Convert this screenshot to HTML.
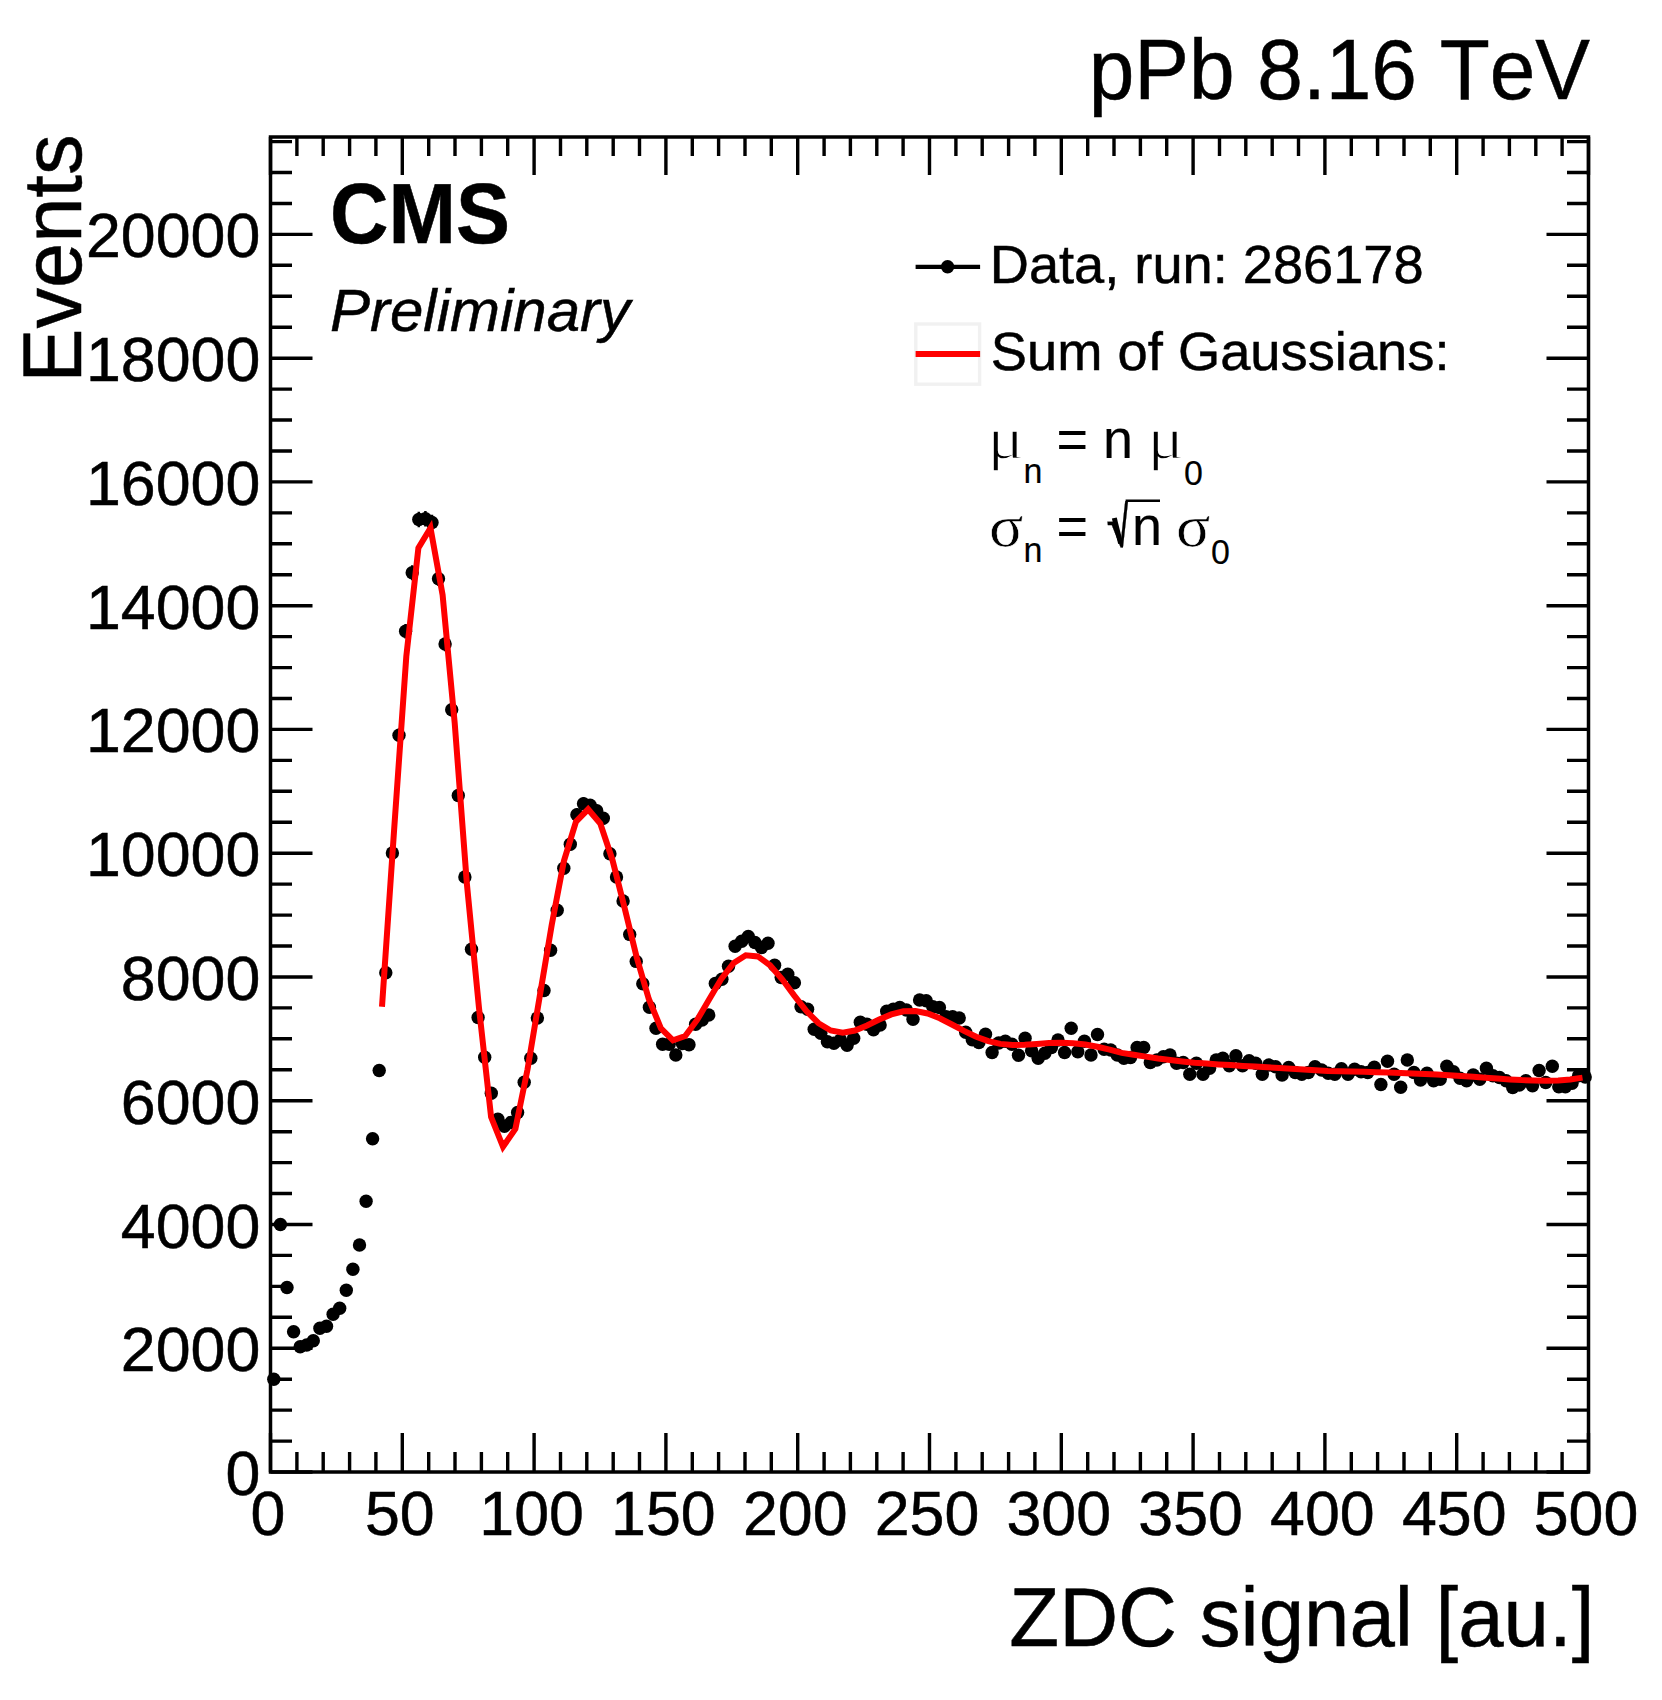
<!DOCTYPE html>
<html lang="en"><head><meta charset="utf-8"><title>ZDC signal</title>
<style>
html,body{margin:0;padding:0;background:#fff;}
body{width:1662px;height:1700px;overflow:hidden;}
svg{display:block;}
text{font-family:"Liberation Sans",Arial,Helvetica,sans-serif;fill:#000;stroke:#000;stroke-width:0.5px;font-kerning:none;}
.g{font-family:"Liberation Serif","DejaVu Serif",serif;stroke:none;}
</style></head><body>
<svg width="1662" height="1700" viewBox="0 0 1662 1700">
<rect x="0" y="0" width="1662" height="1700" fill="#fff"/>
<path d="M273.8 1376.8V1381.6M280.4 1220.6V1228.4M287.0 1284.1V1290.9M293.6 1328.8V1334.6M300.2 1343.9V1349.5M306.7 1342.2V1347.8M313.3 1338.0V1343.6M319.9 1325.3V1331.3M326.5 1323.3V1329.3M333.1 1311.1V1317.3M339.7 1305.1V1311.5M346.3 1286.9V1293.7M352.9 1265.7V1272.7M359.5 1241.3V1248.7M366.1 1197.2V1205.4M372.6 1134.2V1143.2M379.2 1065.5V1075.5M385.8 967.2V978.4M392.4 846.8V859.2M399.0 728.5V742.1M405.6 624.1V638.5M412.2 565.2V580.2M418.8 511.8V527.2M425.4 511.0V526.4M432.0 514.8V530.2M438.5 571.3V586.1M445.1 636.8V651.2M451.7 702.8V716.6M458.3 789.0V802.0M464.9 870.9V883.1M471.5 943.5V954.9M478.1 1012.2V1022.8M484.7 1052.1V1062.3M491.3 1088.5V1098.1M497.9 1114.5V1123.9M504.4 1121.6V1130.8M511.0 1117.8V1127.2M517.6 1107.8V1117.2M524.2 1077.3V1087.1M530.8 1053.2V1063.4M537.4 1012.7V1023.3M544.0 985.0V996.0M550.6 944.6V956.0M557.2 904.4V916.2M563.8 862.2V874.4M570.3 838.0V850.4M576.9 808.3V821.1M583.5 797.3V810.1M590.1 798.9V811.7M596.7 804.4V817.2M603.3 811.9V824.7M609.9 847.5V859.9M616.5 870.9V883.1M623.1 895.1V906.9M629.7 928.6V940.2M636.2 955.8V967.0M642.8 978.3V989.3M649.4 1001.8V1012.6M656.0 1023.1V1033.5M662.6 1039.1V1049.3M669.2 1039.2V1049.4M675.8 1049.9V1060.1M682.4 1038.5V1048.7M689.0 1039.7V1049.9M695.6 1018.9V1029.5M702.1 1014.7V1025.3M708.7 1009.7V1020.3M715.3 978.0V989.0M721.9 973.7V984.7M728.5 960.6V971.8M735.1 940.6V952.0M741.7 935.6V947.0M748.3 930.7V942.3M754.9 936.8V948.2M761.5 941.8V953.2M768.0 937.5V948.9M774.6 959.7V970.9M781.2 972.0V983.0M787.8 968.6V979.8M794.4 977.3V988.3M801.0 1001.3V1012.1M807.6 1003.8V1014.6M814.2 1024.0V1034.4M820.8 1028.1V1038.5M827.4 1036.5V1046.9M833.9 1038.1V1048.5M840.5 1034.8V1045.2M847.1 1040.2V1050.4M853.7 1033.1V1043.5M860.3 1016.9V1027.5M866.9 1018.9V1029.5M873.5 1024.5V1034.9M880.1 1019.7V1030.3M886.7 1006.0V1016.6M893.3 1003.8V1014.6M899.8 1002.1V1012.9M906.4 1004.7V1015.3M913.0 1013.9V1024.5M919.6 994.6V1005.4M926.2 995.4V1006.2M932.8 1001.3V1012.1M939.4 1002.1V1012.9M946.0 1011.4V1022.0M952.6 1011.4V1022.0M959.2 1012.7V1023.3M965.7 1027.0V1037.4M972.3 1034.5V1044.9M978.9 1037.3V1047.7M985.5 1029.0V1039.4M992.1 1047.4V1057.6M998.7 1037.8V1048.2M1005.3 1036.0V1046.4M1011.9 1039.1V1049.3M1018.5 1050.2V1060.4M1025.1 1033.1V1043.5M1031.6 1045.7V1055.9M1038.2 1053.2V1063.4M1044.8 1048.2V1058.4M1051.4 1042.4V1052.6M1058.0 1034.8V1045.2M1064.6 1047.4V1057.6M1071.2 1023.1V1033.5M1077.8 1046.6V1056.8M1084.4 1036.0V1046.4M1091.0 1049.9V1060.1M1097.5 1029.3V1039.7M1104.1 1044.1V1054.3M1110.7 1044.9V1055.1M1117.3 1049.9V1060.1M1123.9 1053.2V1063.4M1130.5 1052.4V1062.6M1137.1 1042.4V1052.6M1143.7 1042.4V1052.6M1150.3 1057.5V1067.5M1156.9 1055.0V1065.0M1163.4 1051.6V1061.8M1170.0 1049.9V1060.1M1176.6 1058.3V1068.3M1183.2 1057.5V1067.5M1189.8 1069.2V1079.2M1196.4 1058.3V1068.3M1203.0 1069.2V1079.2M1209.6 1063.3V1073.3M1216.2 1055.0V1065.0M1222.8 1053.2V1063.4M1229.3 1060.8V1070.8M1235.9 1050.7V1060.9M1242.5 1060.8V1070.8M1249.1 1055.8V1065.8M1255.7 1058.3V1068.3M1262.3 1069.2V1079.2M1268.9 1060.0V1070.0M1275.5 1061.7V1071.7M1282.1 1070.0V1080.0M1288.7 1062.5V1072.5M1295.2 1067.5V1077.5M1301.8 1069.2V1079.2M1308.4 1067.5V1077.5M1315.0 1061.7V1071.7M1321.6 1065.0V1075.0M1328.2 1068.3V1078.3M1334.8 1069.2V1079.2M1341.4 1063.8V1073.8M1348.0 1069.2V1079.2M1354.6 1064.2V1074.2M1361.1 1066.7V1076.7M1367.7 1067.5V1077.5M1374.3 1062.2V1072.2M1380.9 1079.6V1089.4M1387.5 1056.3V1066.3M1394.1 1069.2V1079.2M1400.7 1082.3V1092.1M1407.3 1055.0V1065.0M1413.9 1067.5V1077.5M1420.5 1075.1V1084.9M1427.0 1068.3V1078.3M1433.6 1075.9V1085.7M1440.2 1074.3V1084.1M1446.8 1061.3V1071.3M1453.4 1066.7V1076.7M1460.0 1073.4V1083.2M1466.6 1075.9V1085.7M1473.2 1070.0V1080.0M1479.8 1074.3V1084.1M1486.4 1063.3V1073.3M1492.9 1070.8V1080.8M1499.5 1072.6V1082.4M1506.1 1075.9V1085.7M1512.7 1082.6V1092.4M1519.3 1080.1V1089.9M1525.9 1075.9V1085.7M1532.5 1080.9V1090.7M1539.1 1065.5V1075.5M1545.7 1077.6V1087.4M1552.3 1061.2V1071.2M1558.8 1081.8V1091.6M1565.4 1081.8V1091.6M1572.0 1078.4V1088.2M1578.6 1070.8V1080.8M1585.2 1072.1V1081.9" stroke="#000" stroke-width="2.5" fill="none"/>
<g fill="#000"><circle cx="273.8" cy="1379.2" r="6.7"/><circle cx="280.4" cy="1224.5" r="6.7"/><circle cx="287.0" cy="1287.5" r="6.7"/><circle cx="293.6" cy="1331.7" r="6.7"/><circle cx="300.2" cy="1346.7" r="6.7"/><circle cx="306.7" cy="1345.0" r="6.7"/><circle cx="313.3" cy="1340.8" r="6.7"/><circle cx="319.9" cy="1328.3" r="6.7"/><circle cx="326.5" cy="1326.3" r="6.7"/><circle cx="333.1" cy="1314.2" r="6.7"/><circle cx="339.7" cy="1308.3" r="6.7"/><circle cx="346.3" cy="1290.3" r="6.7"/><circle cx="352.9" cy="1269.2" r="6.7"/><circle cx="359.5" cy="1245.0" r="6.7"/><circle cx="366.1" cy="1201.3" r="6.7"/><circle cx="372.6" cy="1138.7" r="6.7"/><circle cx="379.2" cy="1070.5" r="6.7"/><circle cx="385.8" cy="972.8" r="6.7"/><circle cx="392.4" cy="853.0" r="6.7"/><circle cx="399.0" cy="735.3" r="6.7"/><circle cx="405.6" cy="631.3" r="6.7"/><circle cx="412.2" cy="572.7" r="6.7"/><circle cx="418.8" cy="519.5" r="6.7"/><circle cx="425.4" cy="518.7" r="6.7"/><circle cx="432.0" cy="522.5" r="6.7"/><circle cx="438.5" cy="578.7" r="6.7"/><circle cx="445.1" cy="644.0" r="6.7"/><circle cx="451.7" cy="709.7" r="6.7"/><circle cx="458.3" cy="795.5" r="6.7"/><circle cx="464.9" cy="877.0" r="6.7"/><circle cx="471.5" cy="949.2" r="6.7"/><circle cx="478.1" cy="1017.5" r="6.7"/><circle cx="484.7" cy="1057.2" r="6.7"/><circle cx="491.3" cy="1093.3" r="6.7"/><circle cx="497.9" cy="1119.2" r="6.7"/><circle cx="504.4" cy="1126.2" r="6.7"/><circle cx="511.0" cy="1122.5" r="6.7"/><circle cx="517.6" cy="1112.5" r="6.7"/><circle cx="524.2" cy="1082.2" r="6.7"/><circle cx="530.8" cy="1058.3" r="6.7"/><circle cx="537.4" cy="1018.0" r="6.7"/><circle cx="544.0" cy="990.5" r="6.7"/><circle cx="550.6" cy="950.3" r="6.7"/><circle cx="557.2" cy="910.3" r="6.7"/><circle cx="563.8" cy="868.3" r="6.7"/><circle cx="570.3" cy="844.2" r="6.7"/><circle cx="576.9" cy="814.7" r="6.7"/><circle cx="583.5" cy="803.7" r="6.7"/><circle cx="590.1" cy="805.3" r="6.7"/><circle cx="596.7" cy="810.8" r="6.7"/><circle cx="603.3" cy="818.3" r="6.7"/><circle cx="609.9" cy="853.7" r="6.7"/><circle cx="616.5" cy="877.0" r="6.7"/><circle cx="623.1" cy="901.0" r="6.7"/><circle cx="629.7" cy="934.4" r="6.7"/><circle cx="636.2" cy="961.4" r="6.7"/><circle cx="642.8" cy="983.8" r="6.7"/><circle cx="649.4" cy="1007.2" r="6.7"/><circle cx="656.0" cy="1028.3" r="6.7"/><circle cx="662.6" cy="1044.2" r="6.7"/><circle cx="669.2" cy="1044.3" r="6.7"/><circle cx="675.8" cy="1055.0" r="6.7"/><circle cx="682.4" cy="1043.6" r="6.7"/><circle cx="689.0" cy="1044.8" r="6.7"/><circle cx="695.6" cy="1024.2" r="6.7"/><circle cx="702.1" cy="1020.0" r="6.7"/><circle cx="708.7" cy="1015.0" r="6.7"/><circle cx="715.3" cy="983.5" r="6.7"/><circle cx="721.9" cy="979.2" r="6.7"/><circle cx="728.5" cy="966.2" r="6.7"/><circle cx="735.1" cy="946.3" r="6.7"/><circle cx="741.7" cy="941.3" r="6.7"/><circle cx="748.3" cy="936.5" r="6.7"/><circle cx="754.9" cy="942.5" r="6.7"/><circle cx="761.5" cy="947.5" r="6.7"/><circle cx="768.0" cy="943.2" r="6.7"/><circle cx="774.6" cy="965.3" r="6.7"/><circle cx="781.2" cy="977.5" r="6.7"/><circle cx="787.8" cy="974.2" r="6.7"/><circle cx="794.4" cy="982.8" r="6.7"/><circle cx="801.0" cy="1006.7" r="6.7"/><circle cx="807.6" cy="1009.2" r="6.7"/><circle cx="814.2" cy="1029.2" r="6.7"/><circle cx="820.8" cy="1033.3" r="6.7"/><circle cx="827.4" cy="1041.7" r="6.7"/><circle cx="833.9" cy="1043.3" r="6.7"/><circle cx="840.5" cy="1040.0" r="6.7"/><circle cx="847.1" cy="1045.3" r="6.7"/><circle cx="853.7" cy="1038.3" r="6.7"/><circle cx="860.3" cy="1022.2" r="6.7"/><circle cx="866.9" cy="1024.2" r="6.7"/><circle cx="873.5" cy="1029.7" r="6.7"/><circle cx="880.1" cy="1025.0" r="6.7"/><circle cx="886.7" cy="1011.3" r="6.7"/><circle cx="893.3" cy="1009.2" r="6.7"/><circle cx="899.8" cy="1007.5" r="6.7"/><circle cx="906.4" cy="1010.0" r="6.7"/><circle cx="913.0" cy="1019.2" r="6.7"/><circle cx="919.6" cy="1000.0" r="6.7"/><circle cx="926.2" cy="1000.8" r="6.7"/><circle cx="932.8" cy="1006.7" r="6.7"/><circle cx="939.4" cy="1007.5" r="6.7"/><circle cx="946.0" cy="1016.7" r="6.7"/><circle cx="952.6" cy="1016.7" r="6.7"/><circle cx="959.2" cy="1018.0" r="6.7"/><circle cx="965.7" cy="1032.2" r="6.7"/><circle cx="972.3" cy="1039.7" r="6.7"/><circle cx="978.9" cy="1042.5" r="6.7"/><circle cx="985.5" cy="1034.2" r="6.7"/><circle cx="992.1" cy="1052.5" r="6.7"/><circle cx="998.7" cy="1043.0" r="6.7"/><circle cx="1005.3" cy="1041.2" r="6.7"/><circle cx="1011.9" cy="1044.2" r="6.7"/><circle cx="1018.5" cy="1055.3" r="6.7"/><circle cx="1025.1" cy="1038.3" r="6.7"/><circle cx="1031.6" cy="1050.8" r="6.7"/><circle cx="1038.2" cy="1058.3" r="6.7"/><circle cx="1044.8" cy="1053.3" r="6.7"/><circle cx="1051.4" cy="1047.5" r="6.7"/><circle cx="1058.0" cy="1040.0" r="6.7"/><circle cx="1064.6" cy="1052.5" r="6.7"/><circle cx="1071.2" cy="1028.3" r="6.7"/><circle cx="1077.8" cy="1051.7" r="6.7"/><circle cx="1084.4" cy="1041.2" r="6.7"/><circle cx="1091.0" cy="1055.0" r="6.7"/><circle cx="1097.5" cy="1034.5" r="6.7"/><circle cx="1104.1" cy="1049.2" r="6.7"/><circle cx="1110.7" cy="1050.0" r="6.7"/><circle cx="1117.3" cy="1055.0" r="6.7"/><circle cx="1123.9" cy="1058.3" r="6.7"/><circle cx="1130.5" cy="1057.5" r="6.7"/><circle cx="1137.1" cy="1047.5" r="6.7"/><circle cx="1143.7" cy="1047.5" r="6.7"/><circle cx="1150.3" cy="1062.5" r="6.7"/><circle cx="1156.9" cy="1060.0" r="6.7"/><circle cx="1163.4" cy="1056.7" r="6.7"/><circle cx="1170.0" cy="1055.0" r="6.7"/><circle cx="1176.6" cy="1063.3" r="6.7"/><circle cx="1183.2" cy="1062.5" r="6.7"/><circle cx="1189.8" cy="1074.2" r="6.7"/><circle cx="1196.4" cy="1063.3" r="6.7"/><circle cx="1203.0" cy="1074.2" r="6.7"/><circle cx="1209.6" cy="1068.3" r="6.7"/><circle cx="1216.2" cy="1060.0" r="6.7"/><circle cx="1222.8" cy="1058.3" r="6.7"/><circle cx="1229.3" cy="1065.8" r="6.7"/><circle cx="1235.9" cy="1055.8" r="6.7"/><circle cx="1242.5" cy="1065.8" r="6.7"/><circle cx="1249.1" cy="1060.8" r="6.7"/><circle cx="1255.7" cy="1063.3" r="6.7"/><circle cx="1262.3" cy="1074.2" r="6.7"/><circle cx="1268.9" cy="1065.0" r="6.7"/><circle cx="1275.5" cy="1066.7" r="6.7"/><circle cx="1282.1" cy="1075.0" r="6.7"/><circle cx="1288.7" cy="1067.5" r="6.7"/><circle cx="1295.2" cy="1072.5" r="6.7"/><circle cx="1301.8" cy="1074.2" r="6.7"/><circle cx="1308.4" cy="1072.5" r="6.7"/><circle cx="1315.0" cy="1066.7" r="6.7"/><circle cx="1321.6" cy="1070.0" r="6.7"/><circle cx="1328.2" cy="1073.3" r="6.7"/><circle cx="1334.8" cy="1074.2" r="6.7"/><circle cx="1341.4" cy="1068.8" r="6.7"/><circle cx="1348.0" cy="1074.2" r="6.7"/><circle cx="1354.6" cy="1069.2" r="6.7"/><circle cx="1361.1" cy="1071.7" r="6.7"/><circle cx="1367.7" cy="1072.5" r="6.7"/><circle cx="1374.3" cy="1067.2" r="6.7"/><circle cx="1380.9" cy="1084.5" r="6.7"/><circle cx="1387.5" cy="1061.3" r="6.7"/><circle cx="1394.1" cy="1074.2" r="6.7"/><circle cx="1400.7" cy="1087.2" r="6.7"/><circle cx="1407.3" cy="1060.0" r="6.7"/><circle cx="1413.9" cy="1072.5" r="6.7"/><circle cx="1420.5" cy="1080.0" r="6.7"/><circle cx="1427.0" cy="1073.3" r="6.7"/><circle cx="1433.6" cy="1080.8" r="6.7"/><circle cx="1440.2" cy="1079.2" r="6.7"/><circle cx="1446.8" cy="1066.3" r="6.7"/><circle cx="1453.4" cy="1071.7" r="6.7"/><circle cx="1460.0" cy="1078.3" r="6.7"/><circle cx="1466.6" cy="1080.8" r="6.7"/><circle cx="1473.2" cy="1075.0" r="6.7"/><circle cx="1479.8" cy="1079.2" r="6.7"/><circle cx="1486.4" cy="1068.3" r="6.7"/><circle cx="1492.9" cy="1075.8" r="6.7"/><circle cx="1499.5" cy="1077.5" r="6.7"/><circle cx="1506.1" cy="1080.8" r="6.7"/><circle cx="1512.7" cy="1087.5" r="6.7"/><circle cx="1519.3" cy="1085.0" r="6.7"/><circle cx="1525.9" cy="1080.8" r="6.7"/><circle cx="1532.5" cy="1085.8" r="6.7"/><circle cx="1539.1" cy="1070.5" r="6.7"/><circle cx="1545.7" cy="1082.5" r="6.7"/><circle cx="1552.3" cy="1066.2" r="6.7"/><circle cx="1558.8" cy="1086.7" r="6.7"/><circle cx="1565.4" cy="1086.7" r="6.7"/><circle cx="1572.0" cy="1083.3" r="6.7"/><circle cx="1578.6" cy="1075.8" r="6.7"/><circle cx="1585.2" cy="1077.0" r="6.7"/></g>
<polyline points="382.0,1006.7 394.1,830.0 406.3,656.5 418.4,548.0 430.5,528.0 442.6,595.0 454.7,723.0 466.9,884.0 479.0,1008.0 491.1,1117.0 503.0,1146.8 515.4,1128.9 527.5,1069.5 539.7,996.5 551.8,924.5 563.9,861.0 576.0,821.7 588.1,809.3 600.3,823.6 612.4,859.7 624.5,907.4 636.6,957.0 648.8,999.0 660.9,1028.3 673.0,1040.3 685.2,1036.0 697.3,1019.7 709.4,999.1 721.5,978.6 733.7,963.0 745.8,955.3 757.9,956.4 770.0,965.2 782.2,979.3 794.3,995.6 806.4,1011.1 818.5,1023.2 830.7,1030.5 842.8,1032.7 854.9,1030.5 867.0,1025.5 879.2,1019.6 891.3,1014.4 903.4,1011.3 915.5,1011.0 927.7,1013.5 939.8,1018.3 951.9,1024.5 964.0,1030.9 976.2,1036.7 988.3,1041.1 1000.4,1043.9 1012.6,1045.0 1024.7,1044.8 1036.8,1044.0 1048.9,1043.1 1061.1,1042.7 1073.2,1043.2 1085.3,1044.5 1097.4,1046.8 1109.6,1049.7 1121.7,1052.9 1133.8,1054.8 1145.9,1056.6 1158.1,1058.5 1170.2,1060.0 1182.3,1061.4 1194.4,1062.7 1206.6,1063.6 1218.7,1064.4 1230.8,1065.1 1242.9,1065.9 1255.1,1066.6 1267.2,1067.3 1279.3,1068.1 1291.4,1068.8 1303.6,1069.6 1315.7,1070.3 1327.8,1070.9 1340.0,1071.2 1352.1,1071.5 1364.2,1071.8 1376.3,1072.2 1388.5,1072.5 1400.6,1073.0 1412.7,1073.5 1424.8,1074.1 1437.0,1074.6 1449.1,1075.2 1461.2,1076.0 1473.3,1076.8 1485.5,1077.7 1497.6,1078.6 1509.7,1079.4 1521.8,1080.1 1534.0,1080.4 1546.1,1080.7 1558.2,1080.4 1570.3,1079.4 1582.5,1077.6" fill="none" stroke="#ff0000" stroke-width="6" stroke-linejoin="miter" stroke-miterlimit="10"/>
<path d="M270.5 1472.0V1433.0M270.5 137.0V175.0M296.9 1472.0V1452.0M296.9 137.0V156.0M323.2 1472.0V1452.0M323.2 137.0V156.0M349.6 1472.0V1452.0M349.6 137.0V156.0M375.9 1472.0V1452.0M375.9 137.0V156.0M402.3 1472.0V1433.0M402.3 137.0V175.0M428.7 1472.0V1452.0M428.7 137.0V156.0M455.0 1472.0V1452.0M455.0 137.0V156.0M481.4 1472.0V1452.0M481.4 137.0V156.0M507.7 1472.0V1452.0M507.7 137.0V156.0M534.1 1472.0V1433.0M534.1 137.0V175.0M560.5 1472.0V1452.0M560.5 137.0V156.0M586.8 1472.0V1452.0M586.8 137.0V156.0M613.2 1472.0V1452.0M613.2 137.0V156.0M639.5 1472.0V1452.0M639.5 137.0V156.0M665.9 1472.0V1433.0M665.9 137.0V175.0M692.3 1472.0V1452.0M692.3 137.0V156.0M718.6 1472.0V1452.0M718.6 137.0V156.0M745.0 1472.0V1452.0M745.0 137.0V156.0M771.3 1472.0V1452.0M771.3 137.0V156.0M797.7 1472.0V1433.0M797.7 137.0V175.0M824.1 1472.0V1452.0M824.1 137.0V156.0M850.4 1472.0V1452.0M850.4 137.0V156.0M876.8 1472.0V1452.0M876.8 137.0V156.0M903.1 1472.0V1452.0M903.1 137.0V156.0M929.5 1472.0V1433.0M929.5 137.0V175.0M955.9 1472.0V1452.0M955.9 137.0V156.0M982.2 1472.0V1452.0M982.2 137.0V156.0M1008.6 1472.0V1452.0M1008.6 137.0V156.0M1034.9 1472.0V1452.0M1034.9 137.0V156.0M1061.3 1472.0V1433.0M1061.3 137.0V175.0M1087.7 1472.0V1452.0M1087.7 137.0V156.0M1114.0 1472.0V1452.0M1114.0 137.0V156.0M1140.4 1472.0V1452.0M1140.4 137.0V156.0M1166.7 1472.0V1452.0M1166.7 137.0V156.0M1193.1 1472.0V1433.0M1193.1 137.0V175.0M1219.5 1472.0V1452.0M1219.5 137.0V156.0M1245.8 1472.0V1452.0M1245.8 137.0V156.0M1272.2 1472.0V1452.0M1272.2 137.0V156.0M1298.5 1472.0V1452.0M1298.5 137.0V156.0M1324.9 1472.0V1433.0M1324.9 137.0V175.0M1351.3 1472.0V1452.0M1351.3 137.0V156.0M1377.6 1472.0V1452.0M1377.6 137.0V156.0M1404.0 1472.0V1452.0M1404.0 137.0V156.0M1430.3 1472.0V1452.0M1430.3 137.0V156.0M1456.7 1472.0V1433.0M1456.7 137.0V175.0M1483.1 1472.0V1452.0M1483.1 137.0V156.0M1509.4 1472.0V1452.0M1509.4 137.0V156.0M1535.8 1472.0V1452.0M1535.8 137.0V156.0M1562.1 1472.0V1452.0M1562.1 137.0V156.0M1588.5 1472.0V1433.0M1588.5 137.0V175.0M270.5 1472.0H312.5M1588.5 1472.0H1546.5M270.5 1441.1H292.0M1588.5 1441.1H1567.0M270.5 1410.1H292.0M1588.5 1410.1H1567.0M270.5 1379.2H292.0M1588.5 1379.2H1567.0M270.5 1348.2H312.5M1588.5 1348.2H1546.5M270.5 1317.3H292.0M1588.5 1317.3H1567.0M270.5 1286.4H292.0M1588.5 1286.4H1567.0M270.5 1255.4H292.0M1588.5 1255.4H1567.0M270.5 1224.5H312.5M1588.5 1224.5H1546.5M270.5 1193.5H292.0M1588.5 1193.5H1567.0M270.5 1162.6H292.0M1588.5 1162.6H1567.0M270.5 1131.7H292.0M1588.5 1131.7H1567.0M270.5 1100.7H312.5M1588.5 1100.7H1546.5M270.5 1069.8H292.0M1588.5 1069.8H1567.0M270.5 1038.8H292.0M1588.5 1038.8H1567.0M270.5 1007.9H292.0M1588.5 1007.9H1567.0M270.5 977.0H312.5M1588.5 977.0H1546.5M270.5 946.0H292.0M1588.5 946.0H1567.0M270.5 915.1H292.0M1588.5 915.1H1567.0M270.5 884.1H292.0M1588.5 884.1H1567.0M270.5 853.2H312.5M1588.5 853.2H1546.5M270.5 822.3H292.0M1588.5 822.3H1567.0M270.5 791.3H292.0M1588.5 791.3H1567.0M270.5 760.4H292.0M1588.5 760.4H1567.0M270.5 729.4H312.5M1588.5 729.4H1546.5M270.5 698.5H292.0M1588.5 698.5H1567.0M270.5 667.6H292.0M1588.5 667.6H1567.0M270.5 636.6H292.0M1588.5 636.6H1567.0M270.5 605.7H312.5M1588.5 605.7H1546.5M270.5 574.7H292.0M1588.5 574.7H1567.0M270.5 543.8H292.0M1588.5 543.8H1567.0M270.5 512.9H292.0M1588.5 512.9H1567.0M270.5 481.9H312.5M1588.5 481.9H1546.5M270.5 451.0H292.0M1588.5 451.0H1567.0M270.5 420.0H292.0M1588.5 420.0H1567.0M270.5 389.1H292.0M1588.5 389.1H1567.0M270.5 358.2H312.5M1588.5 358.2H1546.5M270.5 327.2H292.0M1588.5 327.2H1567.0M270.5 296.3H292.0M1588.5 296.3H1567.0M270.5 265.3H292.0M1588.5 265.3H1567.0M270.5 234.4H312.5M1588.5 234.4H1546.5M270.5 203.5H292.0M1588.5 203.5H1567.0M270.5 172.5H292.0M1588.5 172.5H1567.0M270.5 141.6H292.0M1588.5 141.6H1567.0" stroke="#000" stroke-width="3.4" fill="none"/>
<rect x="270.5" y="137.0" width="1318.0" height="1335.0" fill="none" stroke="#000" stroke-width="3.5"/>
<text transform="translate(268.0,1534.6) scale(1,1.010)" font-size="62.7" text-anchor="middle">0</text>
<text transform="translate(399.8,1534.6) scale(1,1.010)" font-size="62.7" text-anchor="middle">50</text>
<text transform="translate(531.6,1534.6) scale(1,1.010)" font-size="62.7" text-anchor="middle">100</text>
<text transform="translate(663.4,1534.6) scale(1,1.010)" font-size="62.7" text-anchor="middle">150</text>
<text transform="translate(795.2,1534.6) scale(1,1.010)" font-size="62.7" text-anchor="middle">200</text>
<text transform="translate(927.0,1534.6) scale(1,1.010)" font-size="62.7" text-anchor="middle">250</text>
<text transform="translate(1058.8,1534.6) scale(1,1.010)" font-size="62.7" text-anchor="middle">300</text>
<text transform="translate(1190.6,1534.6) scale(1,1.010)" font-size="62.7" text-anchor="middle">350</text>
<text transform="translate(1322.4,1534.6) scale(1,1.010)" font-size="62.7" text-anchor="middle">400</text>
<text transform="translate(1454.2,1534.6) scale(1,1.010)" font-size="62.7" text-anchor="middle">450</text>
<text transform="translate(1586.0,1534.6) scale(1,1.010)" font-size="62.7" text-anchor="middle">500</text>
<text transform="translate(260.3,1495.0) scale(1,1.015)" font-size="62.7" text-anchor="end">0</text>
<text transform="translate(260.3,1371.2) scale(1,1.015)" font-size="62.7" text-anchor="end">2000</text>
<text transform="translate(260.3,1247.5) scale(1,1.015)" font-size="62.7" text-anchor="end">4000</text>
<text transform="translate(260.3,1123.7) scale(1,1.015)" font-size="62.7" text-anchor="end">6000</text>
<text transform="translate(260.3,1000.0) scale(1,1.015)" font-size="62.7" text-anchor="end">8000</text>
<text transform="translate(260.3,876.2) scale(1,1.015)" font-size="62.7" text-anchor="end">10000</text>
<text transform="translate(260.3,752.4) scale(1,1.015)" font-size="62.7" text-anchor="end">12000</text>
<text transform="translate(260.3,628.7) scale(1,1.015)" font-size="62.7" text-anchor="end">14000</text>
<text transform="translate(260.3,504.9) scale(1,1.015)" font-size="62.7" text-anchor="end">16000</text>
<text transform="translate(260.3,381.2) scale(1,1.015)" font-size="62.7" text-anchor="end">18000</text>
<text transform="translate(260.3,257.4) scale(1,1.015)" font-size="62.7" text-anchor="end">20000</text>
<text transform="translate(1590.0,99.3) scale(1,1.040)" font-size="82.0" text-anchor="end">pPb 8.16 TeV</text>
<text transform="translate(1594.3,1645.7) scale(1,1.020)" font-size="81.6" text-anchor="end">ZDC signal [au.]</text>
<text transform="translate(80.9,134.5) rotate(-90) scale(1,1.030)" font-size="81.2" text-anchor="end">Events</text>
<text transform="translate(330.0,243.4) scale(1,1.045)" font-size="81.0" text-anchor="start" font-weight="bold">CMS</text>
<text transform="translate(330.0,331.0) scale(1,1.000)" font-size="60.0" text-anchor="start" font-style="italic">Preliminary</text>
<path d="M915.6 266.9H980.1" stroke="#000" stroke-width="4.2"/><circle cx="947.6" cy="266.7" r="6.7" fill="#000"/>
<text transform="translate(989.8,283.0) scale(1,1.000)" font-size="54.2" text-anchor="start">Data, run: 286178</text>
<rect x="915.8" y="324" width="63.8" height="60.2" fill="#fff" stroke="#f1f1f1" stroke-width="3.4"/>
<path d="M915.6 354H980.1" stroke="#ff0000" stroke-width="6.1"/>
<text transform="translate(990.8,369.7) scale(1,1.000)" font-size="54.3" text-anchor="start">Sum of Gaussians:</text>
<text transform="translate(987.5,458.0) scale(1.16,1)" font-size="59.0" class="g" style="stroke:#fff;stroke-width:1.3px">μ</text>
<text transform="translate(1023.5,482.8) scale(1,1.035)" font-size="34.0" text-anchor="start" style="stroke-width:0.15px">n</text>
<text transform="translate(1056.5,458.0) scale(1,1.035)" font-size="54.0" text-anchor="start" style="stroke-width:0.15px">= n</text>
<text transform="translate(1147.5,458.0) scale(1.16,1)" font-size="59.0" class="g" style="stroke:#fff;stroke-width:1.3px">μ</text>
<text transform="translate(1184.0,485.3) scale(1,1.035)" font-size="34.0" text-anchor="start" style="stroke-width:0.15px">0</text>
<text transform="translate(989.0,545.5) scale(1.08,1)" font-size="59.0" class="g" style="stroke:#fff;stroke-width:0.6px">σ</text>
<text transform="translate(1023.5,561.5) scale(1,1.035)" font-size="34.0" text-anchor="start" style="stroke-width:0.15px">n</text>
<text transform="translate(1056.5,544.5) scale(1,1.035)" font-size="54.0" text-anchor="start" style="stroke-width:0.15px">=</text>
<text transform="translate(1109.5,546.8) skewX(7) scale(0.76,1.0)" font-size="58" style="stroke-width:0.3px">√</text>
<path d="M1125.6 500.8H1160" fill="none" stroke="#000" stroke-width="2.6"/>
<path d="M1114.3 518 L1120.6 543.5" fill="none" stroke="#000" stroke-width="5"/>
<text transform="translate(1132.0,544.5) scale(1,1.035)" font-size="54.0" text-anchor="start" style="stroke-width:0.15px">n</text>
<text transform="translate(1176.0,545.5) scale(1.08,1)" font-size="59.0" class="g" style="stroke:#fff;stroke-width:0.6px">σ</text>
<text transform="translate(1211.0,564.3) scale(1,1.035)" font-size="34.0" text-anchor="start" style="stroke-width:0.15px">0</text>
</svg>
</body></html>
